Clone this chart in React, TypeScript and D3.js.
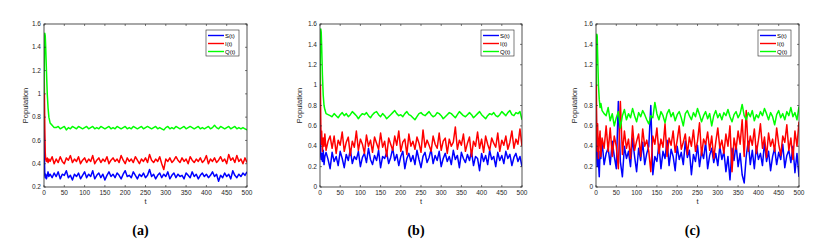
import * as d3 from 'd3'

// time grid: fine steps during the transient, then every 5 units
const tEarly = [0, 1, 2, 3, 4, 6, 8, 10, 12, 15, 20, 25]
const tLate = d3.range(30, 501, 5)
const times = [...tEarly, ...tLate]

const xTicks = [0, 50, 100, 150, 200, 250, 300, 350, 400, 450, 500]
const yTicksA = [0.2, 0.4, 0.6, 0.8, 1, 1.2, 1.4, 1.6]
const yTicksBC = [0, 0.2, 0.4, 0.6, 0.8, 1, 1.2, 1.4, 1.6]
const seriesNames = ['S(t)', 'I(t)', 'Q(t)']
const seriesColors = ['#0000ff', '#ff0000', '#00ff00']

// panel (a)
const sA = [1.0, 0.45, 0.30, 0.28, 0.31, 0.27, 0.30, 0.33, 0.29, 0.31, 0.28, 0.32,
  0.29, 0.33, 0.27, 0.31, 0.30, 0.34, 0.28, 0.30, 0.26, 0.31,
  0.29, 0.32, 0.27, 0.30, 0.33, 0.28, 0.31, 0.29, 0.34, 0.27,
  0.30, 0.32, 0.28, 0.31, 0.26, 0.30, 0.33, 0.29, 0.31, 0.28,
  0.32, 0.30, 0.27, 0.31, 0.34, 0.29, 0.30, 0.28, 0.33, 0.30,
  0.27, 0.31, 0.29, 0.32, 0.28, 0.30, 0.35, 0.29, 0.31, 0.27,
  0.30, 0.32, 0.28, 0.31, 0.29, 0.33, 0.27, 0.30, 0.32, 0.28,
  0.31, 0.29, 0.30, 0.27, 0.32, 0.30, 0.28, 0.33, 0.29, 0.31,
  0.27, 0.30, 0.32, 0.29, 0.31, 0.28, 0.30, 0.33, 0.29, 0.31,
  0.25, 0.30, 0.28, 0.32, 0.29, 0.31, 0.27, 0.34, 0.30, 0.28,
  0.31, 0.29, 0.32, 0.30, 0.33]
const iA = [1.5, 1.0, 0.70, 0.50, 0.44, 0.42, 0.45, 0.41, 0.44, 0.42, 0.46, 0.40,
  0.44, 0.41, 0.46, 0.42, 0.40, 0.45, 0.43, 0.47, 0.41, 0.44,
  0.42, 0.46, 0.40, 0.43, 0.45, 0.41, 0.44, 0.42, 0.47, 0.40,
  0.43, 0.45, 0.41, 0.44, 0.42, 0.46, 0.40, 0.43, 0.45, 0.42,
  0.44, 0.41, 0.47, 0.43, 0.40, 0.45, 0.42, 0.44, 0.41, 0.46,
  0.43, 0.40, 0.44, 0.42, 0.45, 0.41, 0.48, 0.43, 0.41, 0.44,
  0.42, 0.46, 0.40, 0.35, 0.44, 0.42, 0.45, 0.41, 0.43, 0.46,
  0.43, 0.41, 0.45, 0.42, 0.44, 0.40, 0.46, 0.43, 0.41, 0.44,
  0.42, 0.45, 0.41, 0.43, 0.47, 0.40, 0.44, 0.42, 0.45, 0.41,
  0.43, 0.46, 0.42, 0.44, 0.40, 0.48, 0.43, 0.45, 0.41, 0.47,
  0.42, 0.44, 0.40, 0.45, 0.41]
const qA = [1.0, 1.35, 1.52, 1.50, 1.42, 1.20, 1.00, 0.88, 0.80, 0.75, 0.73, 0.71,
  0.71, 0.72, 0.70, 0.71, 0.72, 0.69, 0.71, 0.70, 0.72, 0.71,
  0.70, 0.72, 0.71, 0.70, 0.71, 0.72, 0.70, 0.71, 0.72, 0.70,
  0.71, 0.70, 0.72, 0.71, 0.70, 0.71, 0.72, 0.70, 0.71, 0.70,
  0.72, 0.71, 0.70, 0.71, 0.72, 0.70, 0.71, 0.70, 0.72, 0.71,
  0.70, 0.71, 0.72, 0.70, 0.71, 0.72, 0.71, 0.70, 0.71, 0.72,
  0.70, 0.71, 0.70, 0.69, 0.71, 0.72, 0.70, 0.71, 0.70, 0.72,
  0.71, 0.70, 0.71, 0.72, 0.70, 0.71, 0.72, 0.71, 0.70, 0.71,
  0.72, 0.70, 0.71, 0.70, 0.71, 0.72, 0.70, 0.71, 0.73, 0.71,
  0.70, 0.72, 0.71, 0.70, 0.71, 0.72, 0.70, 0.71, 0.72, 0.70,
  0.71, 0.70, 0.71, 0.70, 0.69]

// panel (b)
const sB = [1.0, 0.50, 0.30, 0.27, 0.33, 0.25, 0.36, 0.22, 0.30, 0.34, 0.27, 0.18,
  0.34, 0.25, 0.30, 0.21, 0.35, 0.28, 0.19, 0.32, 0.26, 0.37,
  0.23, 0.30, 0.27, 0.35, 0.20, 0.29, 0.33, 0.24, 0.38, 0.27,
  0.22, 0.31, 0.26, 0.36, 0.19, 0.30, 0.28, 0.34, 0.23, 0.29,
  0.38, 0.26, 0.32, 0.21, 0.30, 0.35, 0.18, 0.28, 0.33, 0.25,
  0.31, 0.22, 0.36, 0.27, 0.19, 0.30, 0.34, 0.24, 0.29, 0.37,
  0.23, 0.31, 0.26, 0.35, 0.20, 0.28, 0.33, 0.25, 0.30, 0.22,
  0.36, 0.27, 0.31, 0.19, 0.34, 0.28, 0.24, 0.32, 0.26, 0.35,
  0.21, 0.30, 0.28, 0.16, 0.33, 0.25, 0.31, 0.22, 0.36, 0.27,
  0.30, 0.20, 0.34, 0.26, 0.31, 0.23, 0.35, 0.28, 0.32, 0.21,
  0.29, 0.33, 0.25, 0.30, 0.20]
const iB = [1.5, 1.0, 0.60, 0.42, 0.55, 0.35, 0.48, 0.40, 0.52, 0.36, 0.45, 0.50,
  0.38, 0.50, 0.33, 0.46, 0.41, 0.54, 0.35, 0.44, 0.49, 0.31,
  0.45, 0.39, 0.55, 0.36, 0.47, 0.42, 0.33, 0.51, 0.40, 0.46,
  0.34, 0.49, 0.43, 0.37, 0.53, 0.39, 0.45, 0.30, 0.48, 0.42,
  0.36, 0.50, 0.41, 0.55, 0.35, 0.44, 0.47, 0.32, 0.52, 0.40,
  0.45, 0.37, 0.49, 0.43, 0.34, 0.56, 0.39, 0.46, 0.41, 0.35,
  0.50, 0.42, 0.38, 0.53, 0.36, 0.45, 0.48, 0.33, 0.47, 0.40,
  0.44, 0.59, 0.37, 0.46, 0.41, 0.52, 0.35, 0.43, 0.49, 0.30,
  0.45, 0.40, 0.54, 0.38, 0.47, 0.34, 0.50, 0.42, 0.36, 0.48,
  0.43, 0.39, 0.53, 0.35, 0.46, 0.41, 0.50, 0.37, 0.44, 0.55,
  0.38, 0.47, 0.42, 0.57, 0.40]
const qB = [1.0, 1.40, 1.55, 1.52, 1.40, 1.10, 0.90, 0.80, 0.76, 0.72, 0.71, 0.70,
  0.69, 0.72, 0.70, 0.68, 0.71, 0.73, 0.70, 0.72, 0.69, 0.71,
  0.74, 0.72, 0.70, 0.67, 0.70, 0.72, 0.71, 0.73, 0.70, 0.68,
  0.71, 0.73, 0.74, 0.71, 0.69, 0.72, 0.70, 0.67, 0.69, 0.71,
  0.73, 0.75, 0.72, 0.70, 0.71, 0.69, 0.72, 0.74, 0.71, 0.70,
  0.68, 0.66, 0.69, 0.72, 0.73, 0.71, 0.70, 0.72, 0.74, 0.71,
  0.69, 0.70, 0.73, 0.72, 0.70, 0.67, 0.69, 0.71, 0.73, 0.72,
  0.70, 0.68, 0.71, 0.74, 0.72, 0.70, 0.69, 0.71, 0.73, 0.71,
  0.68, 0.70, 0.72, 0.74, 0.71, 0.69, 0.67, 0.70, 0.72, 0.71,
  0.73, 0.70, 0.69, 0.71, 0.74, 0.72, 0.70, 0.73, 0.75, 0.71,
  0.70, 0.73, 0.72, 0.74, 0.66]

// panel (c)
const sC = [1.0, 0.60, 0.30, 0.20, 0.40, 0.25, 0.10, 0.35, 0.28, 0.45, 0.22, 0.33,
  0.38, 0.22, 0.45, 0.30, 0.18, 0.84, 0.25, 0.10, 0.40, 0.28,
  0.35, 0.20, 0.48, 0.30, 0.15, 0.38, 0.26, 0.44, 0.22, 0.33,
  0.40, 0.80, 0.12, 0.30, 0.25, 0.42, 0.18, 0.35, 0.28, 0.46,
  0.21, 0.37, 0.30, 0.16, 0.40, 0.27, 0.34, 0.22, 0.45, 0.29,
  0.36, 0.12, 0.32, 0.25, 0.41, 0.20, 0.35, 0.28, 0.44, 0.18,
  0.31, 0.38, 0.24, 0.33, 0.21, 0.40, 0.27, 0.35, 0.15, 0.30,
  0.07, 0.38, 0.26, 0.42, 0.20, 0.33, 0.12, 0.04, 0.30, 0.45,
  0.22, 0.36, 0.18, 0.40, 0.27, 0.33, 0.21, 0.44, 0.25, 0.35,
  0.16, 0.30, 0.38, 0.22, 0.34, 0.27, 0.42, 0.19, 0.31, 0.36,
  0.24, 0.40, 0.14, 0.33, 0.10]
const iC = [1.5, 0.90, 0.50, 0.35, 0.62, 0.28, 0.45, 0.55, 0.30, 0.48, 0.38, 0.60,
  0.35, 0.58, 0.30, 0.50, 0.40, 0.18, 0.84, 0.32, 0.55, 0.38,
  0.47, 0.28, 0.60, 0.36, 0.45, 0.52, 0.30, 0.57, 0.40, 0.46,
  0.35, 0.15, 0.50, 0.42, 0.58, 0.33, 0.47, 0.39, 0.62, 0.30,
  0.48, 0.41, 0.55, 0.34, 0.46, 0.60, 0.37, 0.44, 0.52, 0.32,
  0.49, 0.40, 0.56, 0.35, 0.45, 0.63, 0.31, 0.47, 0.42, 0.54,
  0.36, 0.50, 0.28, 0.44, 0.58, 0.38, 0.46, 0.33, 0.52, 0.40,
  0.60, 0.15, 0.48, 0.37, 0.55, 0.42, 0.66, 0.30, 0.75, 0.35,
  0.50, 0.41, 0.57, 0.33, 0.46, 0.62, 0.38, 0.49, 0.29, 0.53,
  0.40, 0.47, 0.35, 0.58, 0.42, 0.31, 0.50, 0.44, 0.61, 0.36,
  0.48, 0.27, 0.55, 0.40, 0.64]
const qC = [1.0, 1.30, 1.50, 1.48, 1.30, 1.00, 0.86, 0.78, 0.82, 0.75, 0.72, 0.70,
  0.78, 0.65, 0.72, 0.60, 0.68, 0.74, 0.58, 0.70, 0.76, 0.66,
  0.72, 0.68, 0.77, 0.70, 0.64, 0.73, 0.69, 0.75, 0.71, 0.66,
  0.62, 0.70, 0.68, 0.83, 0.72, 0.66, 0.74, 0.70, 0.63, 0.72,
  0.76, 0.69, 0.73, 0.65, 0.71, 0.74, 0.68, 0.60, 0.72, 0.75,
  0.70, 0.66, 0.73, 0.69, 0.77, 0.71, 0.64, 0.70, 0.74, 0.67,
  0.72, 0.60, 0.70, 0.75, 0.68, 0.72, 0.66, 0.73, 0.70, 0.76,
  0.69, 0.64, 0.71, 0.74, 0.68, 0.72, 0.81, 0.70, 0.66, 0.73,
  0.69, 0.75, 0.65, 0.71, 0.68, 0.74, 0.70, 0.77, 0.72, 0.66,
  0.73, 0.69, 0.61, 0.71, 0.75, 0.68, 0.72, 0.66, 0.74, 0.70,
  0.78, 0.69, 0.73, 0.66, 0.79]

const panels = [
  { id: '(a)', left: 44, right: 247, ylab: 28, yTicks: yTicksA, series: [sA, iA, qA] },
  { id: '(b)', left: 320, right: 522, ylab: 302, yTicks: yTicksBC, series: [sB, iB, qB] },
  { id: '(c)', left: 596, right: 799, ylab: 577, yTicks: yTicksBC, series: [sC, iC, qC] },
]

const top = 24
const bottom = 187
const axisColor = '#262626'
const font = 'Liberation Sans, Arial, sans-serif'

const Panel = ({ p }: { p: typeof panels[number] }) => {
  const x = d3.scaleLinear().domain([0, 500]).range([p.left, p.right])
  const y = d3.scaleLinear().domain([p.yTicks[0], 1.6]).range([bottom, top])
  const line = d3.line<number>().x((_, i) => x(times[i])).y((d) => y(d))
  const cx = (p.left + p.right) / 2
  const lgRight = p.right - 8
  const lgLeft = lgRight - 33
  return (
    <g>
      <defs>
        <clipPath id={`clip${p.left}`}>
          <rect x={p.left} y={top} width={p.right - p.left} height={bottom - top} />
        </clipPath>
      </defs>
      <g clipPath={`url(#clip${p.left})`}>
        {p.series.map((s, k) => (
          <path key={k} d={line(s) ?? ''} fill="none" stroke={seriesColors[k]} strokeWidth={1.5} strokeLinejoin="round" />
        ))}
      </g>
      <rect x={p.left} y={top} width={p.right - p.left} height={bottom - top} fill="none" stroke={axisColor} strokeWidth={0.8} />
      {xTicks.map((t) => (
        <g key={t}>
          <line x1={x(t)} x2={x(t)} y1={bottom} y2={bottom - 2} stroke={axisColor} strokeWidth={0.6} />
          <line x1={x(t)} x2={x(t)} y1={top} y2={top + 2} stroke={axisColor} strokeWidth={0.6} />
          <text x={x(t)} y={bottom + 8} fontSize={6.5} fontFamily={font} textAnchor="middle" fill={axisColor}>{t}</text>
        </g>
      ))}
      {p.yTicks.map((t) => (
        <g key={t}>
          <line x1={p.left} x2={p.left + 2} y1={y(t)} y2={y(t)} stroke={axisColor} strokeWidth={0.6} />
          <line x1={p.right} x2={p.right - 2} y1={y(t)} y2={y(t)} stroke={axisColor} strokeWidth={0.6} />
          <text x={p.left - 3} y={y(t) + 2.2} fontSize={6.5} fontFamily={font} textAnchor="end" fill={axisColor}>{t}</text>
        </g>
      ))}
      <text x={cx} y={bottom + 17} fontSize={7.5} fontFamily={font} textAnchor="middle" fill={axisColor}>t</text>
      <text transform={`translate(${p.ylab},${(top + bottom) / 2}) rotate(-90)`} fontSize={7.5} fontFamily={font} textAnchor="middle" fill={axisColor}>Population</text>
      <rect x={lgLeft} y={top + 6} width={33} height={26} fill="#fff" stroke={axisColor} strokeWidth={0.6} />
      {seriesNames.map((n, k) => (
        <g key={n}>
          <line x1={lgLeft + 2} x2={lgLeft + 18} y1={top + 11.5 + k * 8} y2={top + 11.5 + k * 8} stroke={seriesColors[k]} strokeWidth={1.4} />
          <text x={lgLeft + 19} y={top + 13.8 + k * 8} fontSize={6} fontFamily={font} fill="#000">{n}</text>
        </g>
      ))}
      <text x={cx - 5} y={235} fontSize={14} fontWeight="bold" fontFamily="Liberation Serif, Times New Roman, serif" textAnchor="middle" fill="#000">{p.id}</text>
    </g>
  )
}

export default function App() {
  return (
    <svg width={816} height={241} style={{ position: 'absolute', left: 0, top: 0, background: '#fff' }}>
      <rect width={816} height={241} fill="#fff" />
      {panels.map((p) => <Panel key={p.id} p={p} />)}
    </svg>
  )
}
